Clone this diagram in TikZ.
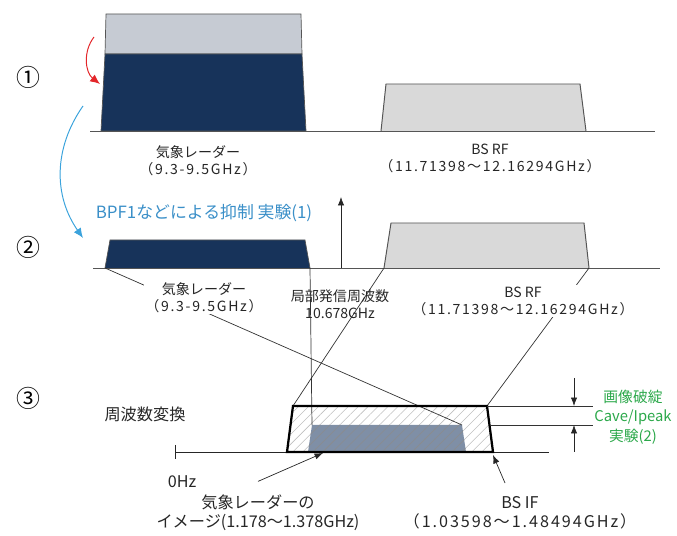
\documentclass[tikz,border=0pt]{standalone}
\usepackage{fontspec}
\setmainfont{Noto Sans CJK JP}
\newfontfamily\spacedjp{Noto Sans CJK JP}[LetterSpace=12]
\usetikzlibrary{arrows.meta, patterns.meta, positioning}
\definecolor{radarblue}{HTML}{17335A}
\definecolor{bandgray}{HTML}{D9D9D9}
\definecolor{edgegray}{HTML}{555555}
\definecolor{ghostgray}{HTML}{C6CBD3}
\definecolor{skyblue}{HTML}{3BA3DC}
\definecolor{bpfblue}{HTML}{3A8FC8}
\definecolor{imgslate}{HTML}{7F8FA6}
\definecolor{notegreen}{HTML}{2BA84A}
\definecolor{arrowred}{HTML}{E3262A}
\tikzset{
	axisline/.style={
			draw=edgegray,
			line width=0.6pt
		},
	radarband/.style={
			fill=radarblue,
			draw=edgegray,
			line width=0.5pt
		},
	ghostband/.style={
			fill=ghostgray,
			draw=edgegray,
			line width=0.5pt
		},
	rfband/.style={
			fill=bandgray,
			draw=edgegray,
			line width=0.7pt
		},
	ifhatch/.style={
			pattern={Lines[angle=45,distance=5pt,line width=0.4pt]},
			pattern color=black!25
		},
	imghatch/.style={
			pattern={Lines[angle=45,distance=5pt,line width=0.4pt]},
			pattern color=black!45
		},
	mapline/.style={
			draw=black!80,
			line width=0.5pt
		},
	pointer/.style={
			draw=black!85,
			line width=0.5pt,
			-{Latex[length=6pt,width=4.5pt]}
		},
	steplabel/.style={
			font=\fontsize{17}{17}\selectfont
		},
	bandlabel/.style={
			font=\fontsize{10}{12}\selectfont,
			align=center,
			text=black!85,
			inner sep=1pt
		},
	biglabel/.style={
			font=\fontsize{11.5}{13.5}\selectfont,
			align=center,
			text=black!85,
			inner sep=1pt
		},
	notelabel/.style={
			font=\fontsize{10.5}{14}\selectfont,
			align=center,
			text=notegreen
		}
}

\begin{document}
\begin{tikzpicture}[x=0.025cm, y=-0.025cm]
\useasboundingbox (0,0) rectangle (677,536);

% (1) received spectrum
\node[steplabel] (stepA) at (28,77) {①};
\draw[axisline] (90,131) -- (655,131);
\draw[ghostband] (105,54) -- (106,14) -- (301,14) -- (302,54) -- cycle;
\draw[radarband] (101,131) -- (105,54) -- (302,54) -- (306,131) -- cycle;
\draw[rfband] (381,131) -- (386,84) -- (580,84) -- (586,131);
\node[bandlabel] (radarA) at (198,161) {気象レーダー\\\spacedjp（9.3-9.5GHz）};
\node[bandlabel] (rfA) at (490,158) {BS RF\\\spacedjp（11.71398～12.16294GHz）};
\coordinate (redS) at (94,37);
\coordinate (redE) at (100,84);
\draw[arrowred, line width=0.7pt, -{Latex[length=7pt,width=6pt]}] (redS) to[bend right=45] (redE);

% (2) after BPF
\coordinate (blueS) at (83,106);
\coordinate (blueE) at (83,238);
\draw[skyblue, line width=0.7pt, -{Latex[length=7pt,width=6pt]}] (blueS) to[bend right=35] (blueE);
\node[steplabel] (stepB) at (28,247) {②};
\node[font=\fontsize{12}{12}\selectfont, text=bpfblue] (bpf) at (204,213) {BPF1などによる抑制 実験(1)};
\draw[axisline] (93,268) -- (660,268);
\coordinate (rdL) at (105,268);
\coordinate (rdR) at (310,268);
\draw[radarband] (rdL) -- (110,240) -- (305,240) -- (rdR);
\coordinate (lo) at (341,268);
\draw[pointer] (lo) -- (341,197);
\coordinate (rfL) at (384,268);
\coordinate (rfR) at (589,268);
\draw[rfband] (rfL) -- (391,223) -- (584,223) -- (rfR);

% (3) IF band
\node[steplabel] (stepC) at (28,398) {③};
\node[font=\fontsize{11.5}{12}\selectfont, text=black!85] (conv) at (145,414) {周波数変換};
\coordinate (ifBL) at (287,452);
\coordinate (ifTL) at (293,406);
\coordinate (ifTR) at (487,406);
\coordinate (ifBR) at (493,452);
\coordinate (imBL) at (308,452);
\coordinate (imTL) at (312,425);
\coordinate (imTR) at (462,425);
\coordinate (imBR) at (466,452);
\fill[ifhatch] (ifBL) -- (ifTL) -- (ifTR) -- (ifBR) -- cycle;
\fill[imgslate] (imBL) -- (imTL) -- (imTR) -- (imBR) -- cycle;
\fill[imghatch] (imBL) -- (imTL) -- (imTR) -- (imBR) -- cycle;
\draw[axisline, draw=black!85] (175,445) -- (175,459);
\draw[axisline, draw=black!85] (175,452) -- (549,452);

\draw[mapline] (rdL) -- (imTR);
\draw[mapline] (rdR) -- (imTL);
\draw[mapline] (rfL) -- (ifTL);
\draw[mapline] (rfR) -- (ifTR);
\draw[black, line width=1.6pt, line join=miter] (ifBL) -- (ifTL) -- (ifTR) -- (ifBR) -- cycle;

\draw[mapline] (ifTR) -- (593,406);
\draw[mapline] (489.5,425) -- (593,425);
\draw[pointer] (574,378) -- (574,406);
\draw[pointer] (574,452) -- (574,425);
\node[notelabel] (note) at (633,417) {画像破綻\\Cave/Ipeak\\実験(2)};

\node[bandlabel, fill=white] (radarB) at (204,298) {気象レーダー\\\spacedjp（9.3-9.5GHz）};
\node[bandlabel] (loLabel) at (340,304) {局部発信周波数\\10.678GHz};
\node[bandlabel, fill=white] (rfB) at (523,301) {BS RF\\\spacedjp（11.71398～12.16294GHz）};

\node[biglabel] (zero) at (182,482) {0Hz};
\node[biglabel] (imgLabel) at (258,513) {気象レーダーの\\イメージ(1.178～1.378GHz)};
\node[biglabel] (ifLabel) at (520,513) {BS IF\\\spacedjp（1.03598～1.48494GHz）};
\draw[pointer] (imgLabel.north) ++(0,-12) coordinate (imgTip) -- (323,453);
\draw[pointer] (ifLabel.north) ++(-15,-12) coordinate (ifTip) -- (493,455);

\end{tikzpicture}
\end{document}
